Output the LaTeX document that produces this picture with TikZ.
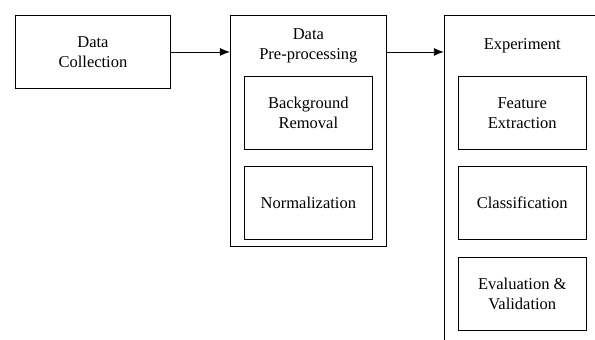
\documentclass[tikz,border=0pt]{standalone}
\usepackage{fontspec}
\setmainfont{Liberation Serif}
\newfontfamily\boxfont{Liberation Serif}
\usetikzlibrary{arrows.meta, positioning}

\begin{document}
\begin{tikzpicture}[node distance=16pt,
  box/.style={rectangle, draw, line width=0.9pt, minimum width=155pt, minimum height=73pt, align=center, font=\boxfont\fontsize{16.5}{19.8}\selectfont},
  subbox/.style={box, minimum width=128pt},
  stage/.style={rectangle, draw, line width=0.9pt, minimum width=156pt},
  title/.style={align=center, inner sep=0pt, font=\boxfont\fontsize{16.5}{19.8}\selectfont},
  arr/.style={-{Latex[length=10pt, width=8pt]}, line width=0.9pt}
]
\useasboundingbox (0,0) rectangle (595pt,-340pt);
\node[box, anchor=north west] (collect) at (15pt,-15pt) {Data\\Collection};
% Pre-processing stage
\node[stage, minimum height=231pt, right=59pt of collect.north east, anchor=north west] (prep) {};
\node[title, below=31pt of prep.north, anchor=center] (preptitle) {Data\\Pre-processing};
\node[subbox, below=61pt of prep.north] (bgrem) {Background\\Removal};
\node[subbox, below=of bgrem] (norm) {Normalization};
% Experiment stage
\node[stage, minimum height=335pt, right=57pt of prep.north east, anchor=north west] (expt) {};
\node[title, below=31pt of expt.north, anchor=center] (expttitle) {Experiment};
\node[subbox, below=61pt of expt.north] (feat) {Feature\\Extraction};
\node[subbox, below=of feat] (classif) {Classification};
\node[subbox, below=17pt of classif] (evalv) {Evaluation \&\\Validation};
\draw[arr] (collect.east) -- (collect.east -| prep.west);
\draw[arr] (collect.east -| prep.east) -- (collect.east -| expt.west);
\end{tikzpicture}
\end{document}
